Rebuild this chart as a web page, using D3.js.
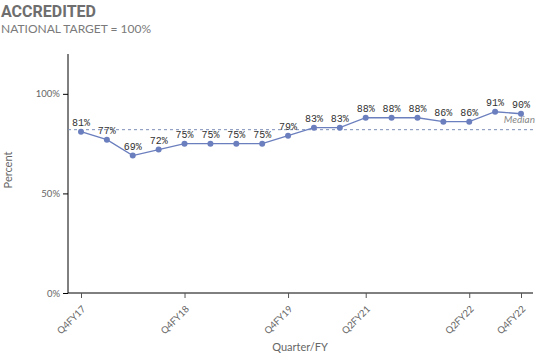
<!DOCTYPE html>
<html><head><meta charset="utf-8">
<script src="https://cdn.jsdelivr.net/npm/d3@7"></script>
<style>body{margin:0;background:#fff}</style></head>
<body><svg id="c" width="540" height="360"></svg>
<script>
const quarters = ["Q4FY17","Q1FY18","Q2FY18","Q3FY18","Q4FY18","Q1FY19","Q2FY19","Q3FY19","Q4FY19","Q2FY20","Q4FY20","Q2FY21","Q3FY21","Q4FY21","Q1FY22","Q2FY22","Q3FY22","Q4FY22"];
const accredited = [81,77,69,72,75,75,75,75,79,83,83,88,88,88,86,86,91,90];
const xTickLabels = ["Q4FY17","Q4FY18","Q4FY19","Q2FY21","Q2FY22","Q4FY22"];
const yTicks = [0,50,100];
const medianValue = d3.median(accredited);

const svg = d3.select("#c");
const m = {l:68, r:533, t:54, b:293};
const x = d3.scalePoint().domain(quarters).range([81,521]);
const y = d3.scaleLinear().domain([0,120]).range([m.b, m.t]);

svg.append("text").attr("x",1).attr("y",17).attr("font-family","Roboto, Lato, sans-serif")
  .attr("font-weight","bold").attr("font-size",16).attr("fill","#6e6e6e").text("ACCREDITED");
svg.append("text").attr("x",1).attr("y",33).attr("font-family","Lato, Roboto, sans-serif")
  .attr("font-size",12).attr("fill","#7a7a7a").text("NATIONAL TARGET = 100%");

// axes
const yAxis = svg.append("g").attr("transform",`translate(${m.l},0)`)
  .call(d3.axisLeft(y).tickValues(yTicks).tickFormat(d=>d+"%").tickSize(5).tickSizeOuter(0));
yAxis.select(".domain").attr("d",`M0,${m.t}V${m.b}`).attr("stroke","#000");
yAxis.selectAll("text").attr("font-family","Lato, sans-serif").attr("font-size",9.5).attr("fill","#666");

const xAxis = svg.append("g").attr("transform",`translate(0,${m.b})`)
  .call(d3.axisBottom(x).tickValues(xTickLabels).tickSize(5).tickSizeOuter(0));
xAxis.select(".domain").attr("d",`M${m.l},0H${m.r}`).attr("stroke","#000");
xAxis.selectAll("line").attr("stroke","#555");
xAxis.selectAll("text").attr("font-family","Lato, sans-serif").attr("font-size",9.5).attr("fill","#666")
  .attr("text-anchor","end").attr("dy","0.3em").attr("transform","translate(-3,9) rotate(-45)");

svg.append("text").attr("transform","translate(12,170) rotate(-90)").attr("text-anchor","middle")
  .attr("font-family","Lato, sans-serif").attr("font-size",11).attr("fill","#666").text("Percent");
svg.append("text").attr("x",300).attr("y",351).attr("text-anchor","middle")
  .attr("font-family","Lato, sans-serif").attr("font-size",11).attr("fill","#666").text("Quarter/FY");

// median
svg.append("line").attr("x1",m.l).attr("x2",m.r).attr("y1",y(medianValue)).attr("y2",y(medianValue))
  .attr("stroke","#7d8fb8").attr("stroke-dasharray","3,3").attr("stroke-width",1);
svg.append("text").attr("x",535).attr("y",y(medianValue)-7).attr("text-anchor","end")
  .attr("font-family","Lato, sans-serif").attr("font-style","italic").attr("font-size",10).attr("fill","#888").text("Median");

// line
const color = "#6b7fbe";
svg.append("path").datum(accredited.map((v,i)=>[quarters[i],v]))
  .attr("fill","none").attr("stroke",color).attr("stroke-width",1.3)
  .attr("d", d3.line().x(d=>x(d[0])).y(d=>y(d[1])));
svg.selectAll("circle.pt").data(accredited).join("circle").attr("class","pt")
  .attr("cx",(d,i)=>x(quarters[i])).attr("cy",d=>y(d)).attr("r",3).attr("fill",color);
svg.selectAll("text.lbl").data(accredited).join("text").attr("class","lbl")
  .attr("x",(d,i)=>x(quarters[i])).attr("y",d=>y(d)-6).attr("text-anchor","middle")
  .attr("font-family","Liberation Mono, monospace").attr("font-size",10).attr("fill","#333").text(d=>d+"%");
</script></body></html>
